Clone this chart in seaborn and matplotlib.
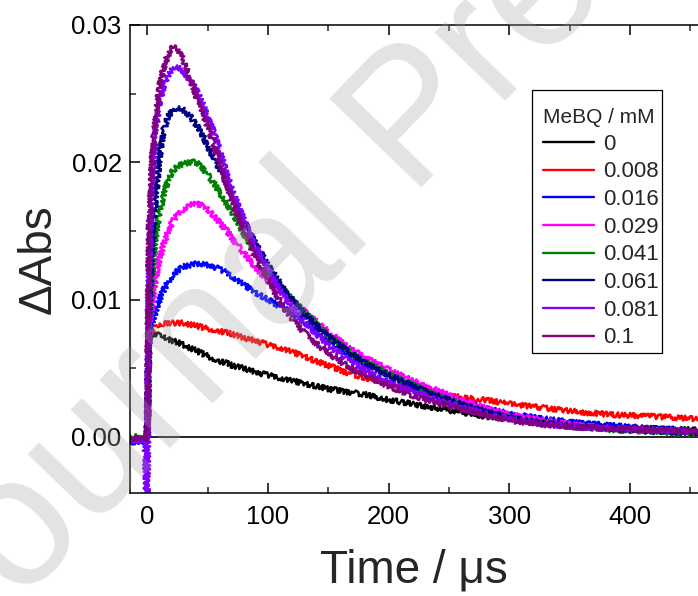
import numpy as np
import pandas as pd
import matplotlib
matplotlib.use("Agg")
import matplotlib.pyplot as plt
import seaborn as sns
from matplotlib.ticker import MultipleLocator, FormatStrFormatter
from matplotlib.patches import Rectangle

# ---------------- data ----------------
time_us = [-14, -8, -2, 0, 0.5, 1.5, 3, 5, 7, 10, 13, 17, 21, 25, 30, 35, 40, 45, 50, 55,
           60, 65, 70, 80, 90, 100, 110, 120, 130, 140, 150, 165, 180, 200, 220, 240, 260,
           280, 300, 330, 360, 390, 420, 456]

conc_labels = ["0", "0.008", "0.016", "0.029", "0.041", "0.061", "0.081", "0.1"]

abs_0 = [-0.0002, -0.0001, -0.0003, 0.0000, 0.0040, 0.0073, 0.0074, 0.0075, 0.0075, 0.0074,
         0.0073, 0.0071, 0.0070, 0.0069, 0.0067, 0.0065, 0.0063, 0.0061, 0.0059, 0.0057,
         0.0055, 0.0054, 0.0052, 0.0050, 0.0047, 0.0045, 0.0043, 0.0041, 0.0039, 0.0037,
         0.0035, 0.0033, 0.0031, 0.0027, 0.0024, 0.0021, 0.0018, 0.0015, 0.0013, 0.0011,
         0.0009, 0.0007, 0.0006, 0.0005]
abs_0008 = [-0.0002, -0.0001, -0.0002, 0.0000, 0.0040, 0.0074, 0.0077, 0.0079, 0.0080, 0.0081,
            0.0082, 0.0083, 0.0083, 0.0083, 0.0083, 0.0082, 0.0081, 0.0080, 0.0079, 0.0078,
            0.0077, 0.0076, 0.0075, 0.0072, 0.0070, 0.0067, 0.0065, 0.0062, 0.0059, 0.0055,
            0.0052, 0.0047, 0.0043, 0.0039, 0.0035, 0.0031, 0.0029, 0.0027, 0.0024, 0.0021,
            0.0018, 0.0016, 0.0015, 0.0013]
abs_0016 = [-0.0004, -0.0003, -0.0005, -0.0002, 0.0040, 0.0075, 0.0080, 0.0086, 0.0092, 0.0100,
            0.0106, 0.0113, 0.0118, 0.0121, 0.0124, 0.0125, 0.0126, 0.0126, 0.0125, 0.0124,
            0.0122, 0.0120, 0.0117, 0.0111, 0.0105, 0.0100, 0.0095, 0.0090, 0.0084, 0.0077,
            0.0070, 0.0061, 0.0053, 0.0045, 0.0038, 0.0032, 0.0026, 0.0021, 0.0017, 0.0013,
            0.0010, 0.0008, 0.0006, 0.0004]
abs_0029 = [-0.0002, -0.0001, -0.0002, 0.0000, 0.0040, 0.0078, 0.0090, 0.0104, 0.0116, 0.0129,
            0.0139, 0.0149, 0.0157, 0.0162, 0.0166, 0.0169, 0.0170, 0.0169, 0.0166, 0.0161,
            0.0156, 0.0151, 0.0145, 0.0134, 0.0123, 0.0114, 0.0106, 0.0099, 0.0092, 0.0084,
            0.0077, 0.0066, 0.0058, 0.0049, 0.0041, 0.0034, 0.0027, 0.0021, 0.0016, 0.0012,
            0.0008, 0.0006, 0.0005, 0.0003]
abs_0041 = [0.0001, 0.0000, 0.0001, 0.0000, 0.0040, 0.0085, 0.0105, 0.0128, 0.0146, 0.0163,
            0.0175, 0.0187, 0.0194, 0.0197, 0.0199, 0.0200, 0.0200, 0.0197, 0.0191, 0.0185,
            0.0178, 0.0171, 0.0164, 0.0148, 0.0134, 0.0121, 0.0110, 0.0100, 0.0091, 0.0082,
            0.0074, 0.0064, 0.0055, 0.0046, 0.0038, 0.0030, 0.0024, 0.0018, 0.0014, 0.0010,
            0.0007, 0.0005, 0.0004, 0.0002]
abs_0061 = [-0.0001, -0.0002, -0.0001, 0.0000, 0.0045, 0.0095, 0.0125, 0.0152, 0.0175, 0.0203,
            0.0222, 0.0233, 0.0238, 0.0240, 0.0238, 0.0234, 0.0228, 0.0221, 0.0212, 0.0203,
            0.0195, 0.0186, 0.0176, 0.0157, 0.0140, 0.0125, 0.0112, 0.0100, 0.0090, 0.0081,
            0.0073, 0.0063, 0.0054, 0.0045, 0.0037, 0.0030, 0.0024, 0.0019, 0.0014, 0.0010,
            0.0007, 0.0006, 0.0004, 0.0003]
abs_0081 = [-0.0002, -0.0003, -0.0002, -0.0060, 0.0060, 0.0120, 0.0170, 0.0200, 0.0222, 0.0243,
            0.0254, 0.0263, 0.0268, 0.0270, 0.0266, 0.0260, 0.0254, 0.0244, 0.0233, 0.0222,
            0.0208, 0.0194, 0.0180, 0.0158, 0.0138, 0.0122, 0.0107, 0.0094, 0.0084, 0.0075,
            0.0067, 0.0057, 0.0049, 0.0040, 0.0033, 0.0027, 0.0022, 0.0017, 0.0013, 0.0009,
            0.0007, 0.0006, 0.0005, 0.0004]
abs_01 = [0.0000, -0.0001, 0.0000, -0.0003, 0.0060, 0.0150, 0.0185, 0.0215, 0.0232, 0.0255,
          0.0268, 0.0278, 0.0284, 0.0283, 0.0274, 0.0262, 0.0249, 0.0237, 0.0226, 0.0213,
          0.0199, 0.0186, 0.0173, 0.0150, 0.0130, 0.0114, 0.0099, 0.0086, 0.0076, 0.0068,
          0.0061, 0.0052, 0.0045, 0.0037, 0.0030, 0.0025, 0.0020, 0.0016, 0.0012, 0.0009,
          0.0007, 0.0006, 0.0005, 0.0004]

series_values = [abs_0, abs_0008, abs_0016, abs_0029, abs_0041, abs_0061, abs_0081, abs_01]
line_colors = ["#000000", "#ff0000", "#0000ff", "#ff00ff", "#008000", "#000080", "#8000ff", "#800080"]

x_ticks = [0, 100, 200, 300, 400]
y_ticks = [0.00, 0.01, 0.02, 0.03]

# ---------------- long-form table ----------------
rows = []
for lab, vals in zip(conc_labels, series_values):
    for t, a in zip(time_us, vals):
        rows.append({"t": t, "A": a, "conc": lab})
df = pd.DataFrame(rows)

# ---------------- style ----------------
sns.set_style("ticks")
plt.rcParams["font.family"] = ["Liberation Sans", "DejaVu Sans"]
plt.rcParams["axes.linewidth"] = 1.1

fig = plt.figure(figsize=(6.98, 5.96), dpi=100)
ax = fig.add_axes([130 / 698, 1 - 493 / 596, 568 / 698, 468 / 596])

sns.lineplot(data=df, x="t", y="A", hue="conc", hue_order=conc_labels,
             palette=dict(zip(conc_labels, line_colors)), estimator=None, sort=False,
             linewidth=1.8, legend=False, ax=ax)

data_lines = list(ax.lines)
for ln in data_lines:
    ln.set_sketch_params(scale=2.6, length=2.5, randomness=3)

# zero reference line
ax.hlines(0, 0, 460, colors="black", linewidth=1.2, zorder=1)

ax.set_xlim(-14.4, 456.4)
ax.set_ylim(-0.00408, 0.0300)

ax.set_xticks(x_ticks)
ax.set_yticks(y_ticks)
ax.xaxis.set_minor_locator(MultipleLocator(50))
ax.yaxis.set_minor_locator(MultipleLocator(0.005))
ax.yaxis.set_major_formatter(FormatStrFormatter("%.2f"))
ax.tick_params(axis="both", which="major", direction="in", length=7, width=1.1,
               labelsize=18.5, top=True, right=False, color="black", labelcolor="black")
ax.tick_params(axis="both", which="minor", direction="in", length=4, width=1.1,
               top=True, right=False)
ax.tick_params(axis="x", which="major", pad=9)
ax.tick_params(axis="y", which="major", pad=6)

for s in ["left", "bottom", "top"]:
    ax.spines[s].set_visible(True)
    ax.spines[s].set_color("black")
ax.spines["right"].set_visible(False)

ax.set_xlabel("Time / μs", fontsize=33, labelpad=14)
ax.set_ylabel("ΔAbs", fontsize=33, labelpad=8)

# legend (frame drawn as a separate box to match the reference padding)
ax.add_patch(Rectangle((532 / 698, 1 - 353 / 596), 130 / 698, 263 / 596,
                       transform=fig.transFigure, facecolor="white", edgecolor="black",
                       linewidth=0.9, zorder=4, clip_on=False))
leg = ax.legend(handles=data_lines, labels=conc_labels, title="MeBQ / mM",
                loc="upper left", bbox_to_anchor=(543 / 698, 1 - 108 / 596),
                bbox_transform=fig.transFigure, fontsize=16, title_fontsize=15,
                frameon=False, handlelength=2.3, handletextpad=0.4,
                labelspacing=0.3, borderpad=0, borderaxespad=0)
leg.set_zorder(5)
leg._legend_box.align = "left"
for hl in leg.get_lines():
    hl.set_sketch_params(None)
    hl.set_linewidth(1.7)

# watermark
fig.text(416 / 698, 1 - 124 / 596, "Journal Pre-proof", fontsize=133, rotation=46,
         ha="center", va="center", rotation_mode="anchor", color=(0.63, 0.63, 0.63),
         alpha=0.30, zorder=10)

fig.savefig("out.png", dpi=100)
